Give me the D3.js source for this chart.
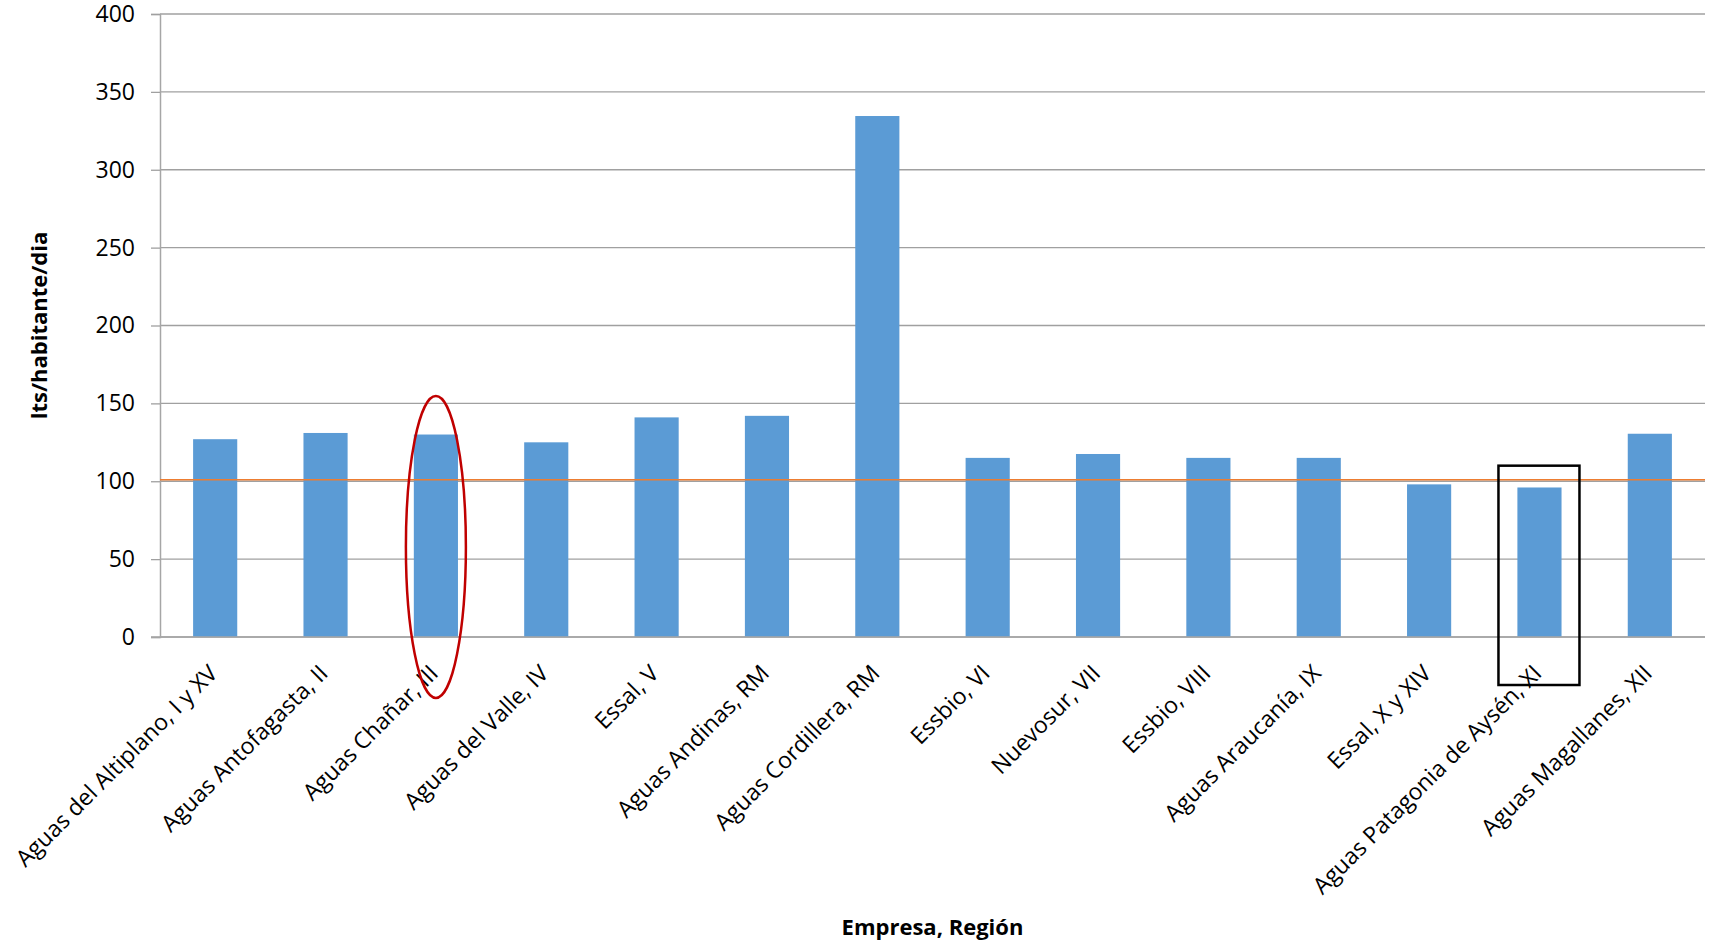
<!DOCTYPE html>
<html>
<head>
<meta charset="utf-8">
<script src="https://cdn.jsdelivr.net/npm/d3@7"></script>
<style>
  body { margin: 0; background: #fff; }
  text { font-family: "Open Sans", sans-serif; fill: #000; }
</style>
</head>
<body>
<svg id="chart"></svg>
<script>
// data ---------------------------------------------------------------
var empresas = [
  "Aguas del Altiplano, I y XV", "Aguas Antofagasta, II", "Aguas Chañar, III",
  "Aguas del Valle, IV", "Essal, V", "Aguas Andinas, RM", "Aguas Cordillera, RM",
  "Essbio, VI", "Nuevosur, VII", "Essbio, VIII", "Aguas Araucanía, IX",
  "Essal, X y XIV", "Aguas Patagonia de Aysén, XI", "Aguas Magallanes, XII"
];
var consumo = [127, 131, 130, 125, 141, 142, 334.5, 115, 117.5, 115, 115, 98, 96, 130.5];
var referencia = 101;
var yTicks = [0, 50, 100, 150, 200, 250, 300, 350, 400];
var destacadoElipse = "Aguas Chañar, III";
var destacadoCaja = "Aguas Patagonia de Aysén, XI";

var width = 1717;
var height = 944;
var margin = {top: 14, right: 12, bottom: 307, left: 160};
var innerW = width - margin.left - margin.right;
var innerH = height - margin.top - margin.bottom;

var svg = d3.select('#chart')
    .attr('width', width)
    .attr('height', height);

var g = svg.append('g')
    .attr('transform', 'translate(' + margin.left + ',' + margin.top + ')');

var x = d3.scaleBand()
    .domain(empresas)
    .range([0, innerW])
    .paddingInner(0.6)
    .paddingOuter(0.3);

var y = d3.scaleLinear()
    .domain([0, 400])
    .range([innerH, 0]);

// gridlines
g.append('g').selectAll('line')
    .data(yTicks)
    .enter()
    .append('line')
    .attr('x1', 0)
    .attr('x2', innerW)
    .attr('y1', function (d) { return y(d); })
    .attr('y2', function (d) { return y(d); })
    .attr('stroke', '#a0a0a0')
    .attr('stroke-width', 1.3);

// y axis
var yAxis = g.append('g')
    .call(d3.axisLeft(y).tickValues(yTicks).tickSize(9).tickPadding(16));
yAxis.select('.domain').attr('stroke', '#a6a6a6').attr('stroke-width', 1.5);
yAxis.selectAll('.tick line').attr('stroke', '#a0a0a0').attr('stroke-width', 1.3);
yAxis.selectAll('text')
    .style('font-family', '"Open Sans", sans-serif')
    .style('font-size', '23px')
    .attr('fill', '#000');

// bars
g.append('g').selectAll('rect')
    .data(empresas)
    .enter()
    .append('rect')
    .attr('x', function (d) { return x(d); })
    .attr('y', function (d, i) { return y(consumo[i]); })
    .attr('width', x.bandwidth())
    .attr('height', function (d, i) { return innerH - y(consumo[i]); })
    .attr('fill', '#5b9bd5');

// x axis line
g.append('line')
    .attr('x1', -9)
    .attr('x2', innerW)
    .attr('y1', innerH)
    .attr('y2', innerH)
    .attr('stroke', '#a6a6a6')
    .attr('stroke-width', 1.5);

// reference line
g.append('line')
    .attr('x1', 0)
    .attr('x2', innerW)
    .attr('y1', y(referencia))
    .attr('y2', y(referencia))
    .attr('stroke', '#ed7d31')
    .attr('stroke-width', 1.6);

// category labels
g.append('g').selectAll('text')
    .data(empresas)
    .enter()
    .append('text')
    .attr('transform', function (d) {
        var cx = x(d) + x.bandwidth() / 2 - 2;
        return 'translate(' + cx + ',' + (innerH + 32) + ') rotate(-45)';
    })
    .attr('text-anchor', 'end')
    .attr('dy', '0.35em')
    .style('font-size', '23px')
    .text(function (d) { return d; });

// highlight shapes
var cxE = x(destacadoElipse) + x.bandwidth() / 2;
g.append('ellipse')
    .attr('cx', cxE)
    .attr('cy', y(0) - 90)
    .attr('rx', 30)
    .attr('ry', 151)
    .attr('fill', 'none')
    .attr('stroke', '#c00000')
    .attr('stroke-width', 2.5);

var cxB = x(destacadoCaja) + x.bandwidth() / 2;
g.append('rect')
    .attr('x', cxB - 41)
    .attr('y', y(110))
    .attr('width', 81)
    .attr('height', innerH - y(110) + 48)
    .attr('fill', 'none')
    .attr('stroke', '#000')
    .attr('stroke-width', 2.5);

// axis titles
svg.append('text')
    .attr('x', margin.left + innerW / 2)
    .attr('y', 935)
    .attr('text-anchor', 'middle')
    .style('font-size', '22px')
    .style('font-weight', 'bold')
    .text('Empresa, Región');

svg.append('text')
    .attr('transform', 'translate(47,' + (margin.top + y(200)) + ') rotate(-90)')
    .attr('text-anchor', 'middle')
    .style('font-size', '22px')
    .style('font-weight', 'bold')
    .text('lts/habitante/dia');
</script>
</body>
</html>
